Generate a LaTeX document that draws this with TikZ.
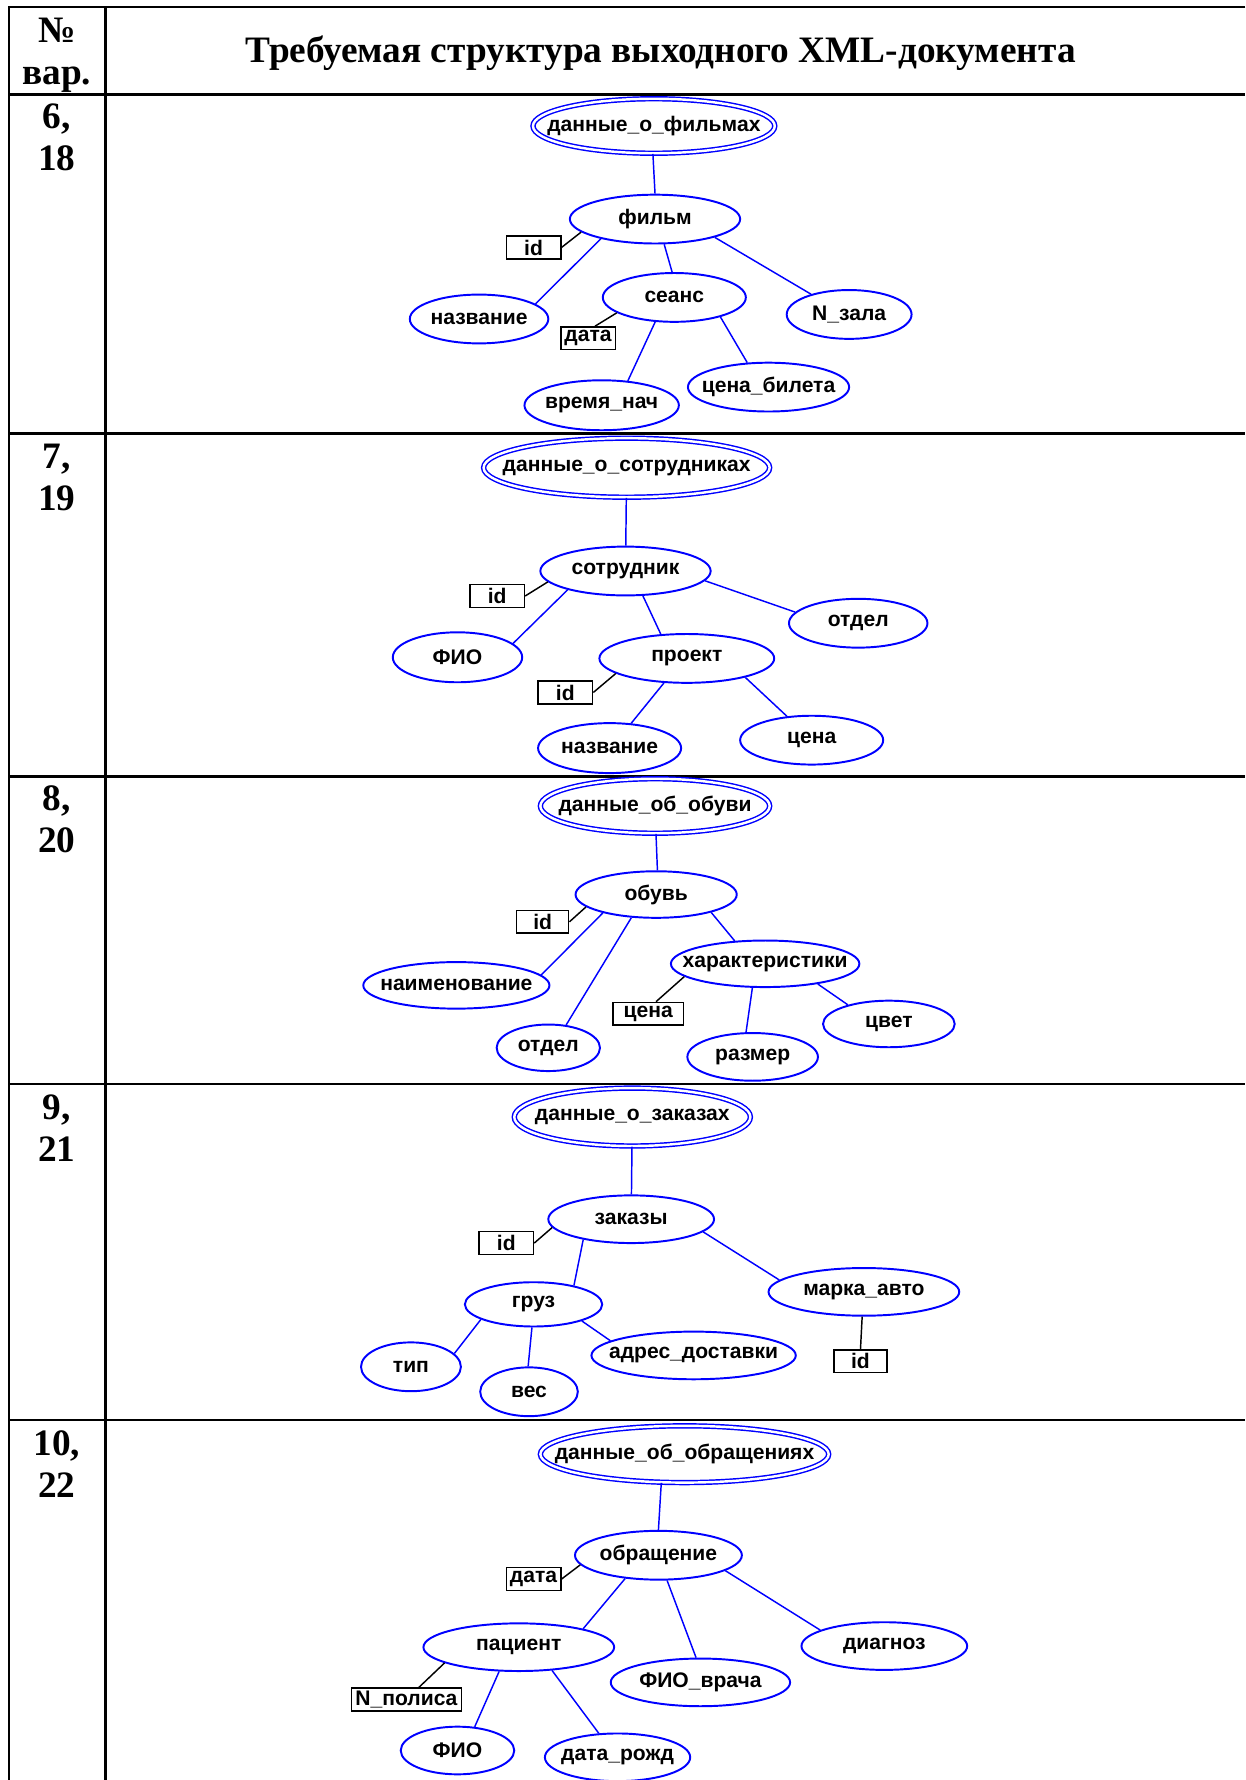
\documentclass[tikz,border=0pt]{standalone}
\usepackage{fontspec}
\setmainfont{Liberation Serif}
\newfontfamily\arialfont{Liberation Sans}
\usetikzlibrary{shapes.geometric}
\begin{document}
\begin{tikzpicture}[x=0.7pt,y=-0.7pt]

    \tikzset{
      elem/.style 2 args={
        ellipse,
        draw=blue,
        line width=1.2pt,
        inner sep=0pt,
        minimum width=#1*0.7pt,
        minimum height=#2*0.7pt,
        font=\arialfont\bfseries\fontsize{13}{15}\selectfont,
        execute at begin node={\hbox to 0pt\bgroup\hss},
        execute at end node={\hss\egroup},
      },
      rootelem/.style 2 args={
        elem={#1}{#2},
        line width=0.9pt,
        double=white,
        double distance=1.5pt,
      },
      attr/.style={
        draw,
        line width=0.9pt,
        inner sep=0pt,
        minimum width=#1*0.7pt,
        minimum height=20*0.7pt,
        font=\arialfont\bfseries\fontsize{13}{15}\selectfont,
      },
      link/.style={draw=blue, line width=0.9pt},
      alink/.style={draw=black, line width=0.9pt},
      tableline/.style={line width=1.6pt},
      headtext/.style={font=\bfseries\fontsize{23}{26}\selectfont, align=center, inner sep=0pt},
    }
    \useasboundingbox (0,0) rectangle (1097,1568);
    \draw[tableline] (1097,6) -- (8,6) -- (8,1568);
    \draw[tableline] (93,6) -- (93,1568);
    \foreach \y in {83,382,684,955,1251}
      \draw[tableline] (8,\y) -- (1097,\y);

    \node[headtext] (nohead) at (50,49) {№\\вар.};
    \node[headtext] (title) at (582,47) {Требуемая структура выходного XML-документа};
    \node[headtext, anchor=north] (var1) at (50,91) {6,\\18};
    \node[headtext, anchor=north] (var2) at (50,391) {7,\\19};
    \node[headtext, anchor=north] (var3) at (50,692) {8,\\20};
    \node[headtext, anchor=north] (var4) at (50,964) {9,\\21};
    \node[headtext, anchor=north] (var5) at (50,1260) {10,\\22};

	\node[rootelem={213}{48}] (films) at (576,111) {данные\_о\_фильмах};
	\node[elem={150}{43}] (film) at (577,193) {фильм};
	\node[attr=48] (filmid) at (470,218) {id};
	\node[elem={122}{43}] (filmname) at (422,281) {название};
	\node[elem={126}{43}] (show) at (594,262) {сеанс};
	\node[attr=48] (showdate) at (518,298) {дата};
	\node[elem={110}{43}] (hall) at (748,277) {N\_зала};
	\node[elem={142}{43}] (price) at (677,341) {цена\_билета};
	\node[elem={136}{44}] (start) at (530,357) {время\_нач};
	\draw[link] (films.268) -- (film.90);
	\draw[alink] (filmid.east) -- (film.190);
	\draw[link] (film.200) -- (filmname.15);
	\draw[link] (film.290) -- (show.95);
	\draw[link] (film.343) -- (hall.152);
	\draw[alink] (showdate.60) -- (show.195);
	\draw[link] (show.232) -- (start.43);
	\draw[link] (show.337) -- (price.131);

	\node[rootelem={252}{52}] (staff) at (552,412) {данные\_о\_сотрудниках};
	\node[elem={150}{43}] (emp) at (551,503) {сотрудник};
	\node[attr=48] (empid) at (438,525) {id};
	\node[elem={114}{44}] (empname) at (403,579) {ФИО};
	\node[elem={122}{43}] (dept) at (756,549) {отдел};
	\node[elem={154}{43}] (proj) at (605,580) {проект};
	\node[attr=48] (projid) at (498,610) {id};
	\node[elem={126}{44}] (projname) at (537,659) {название};
	\node[elem={126}{43}] (projcost) at (715,652) {цена};
	\draw[link] (staff) -- (emp);
	\draw[alink] (empid.east) -- (emp.188);
	\draw[link] (emp.198) -- (empname.14);
	\draw[link] (emp.305) -- (proj.137);
	\draw[link] (emp.353) -- (dept.170);
	\draw[alink] (projid.east) -- (proj.192);
	\draw[link] (proj.227) -- (projname.49);
	\draw[link] (proj.342) -- (projcost.136);

	\node[rootelem={202}{48}] (shoes) at (577,710) {данные\_об\_обуви};
	\node[elem={142}{41}] (shoe) at (578,788) {обувь};
	\node[attr=46] (shoeid) at (478,812) {id};
	\node[elem={164}{41}] (shoename) at (402,868) {наименование};
	\node[elem={91}{41}] (shoedept) at (483,923) {отдел};
	\node[elem={166}{41}] (props) at (674,849) {характеристики};
	\node[attr=62] (propprice) at (571,893) {цена};
	\node[elem={115}{42}] (size) at (663,931) {размер};
	\node[elem={116}{41}] (colour) at (783,902) {цвет};
	\draw[link] (shoes.272) -- (shoe.87);
	\draw[alink] (shoeid.east) -- (shoe.190);
	\draw[link] (shoe.199) -- (shoename.7);
	\draw[link] (shoe.223) -- (shoedept.52);
	\draw[link] (shoe.342) -- (props.143);
	\draw[alink] (propprice.57) -- (props.189);
	\draw[link] (props.242) -- (size.105);
	\draw[link] (props.339) -- (colour.155);

	\node[rootelem={208}{51}] (orders) at (557,984) {данные\_о\_заказах};
	\node[elem={146}{42}] (order) at (556,1074) {заказы};
	\node[attr=48] (orderid) at (446,1095) {id};
	\node[elem={121}{39}] (cargo) at (470,1149) {груз};
	\node[elem={168}{42}] (car) at (761,1138) {марка\_авто};
	\node[attr=47] (carid) at (758,1199) {id};
	\node[elem={88}{43}] (kind) at (362,1204) {тип};
	\node[elem={86}{43}] (weight) at (466,1226) {вес};
	\node[elem={180}{42}] (address) at (611,1194) {адрес\_доставки};
	\draw[link] (orders) -- (order);
	\draw[alink] (orderid.east) -- (order.186);
	\draw[link] (order.203) -- (cargo.25);
	\draw[link] (order.350) -- (car.172);
	\draw[alink] (car.266) -- (carid.north);
	\draw[link] (cargo.196) -- (kind.17);
	\draw[link] (cargo.266) -- (weight.92);
	\draw[link] (cargo.341) -- (address.170);

	\node[rootelem={254}{50}] (visits) at (603,1281) {данные\_об\_обращениях};
	\node[elem={147}{43}] (visit) at (580,1370) {обращение};
	\node[attr=48] (visitdate) at (470,1391) {дата};
	\node[elem={168}{42}] (patient) at (457,1451) {пациент};
	\node[elem={158}{42}] (doctor) at (617,1482) {ФИО\_врача};
	\node[elem={146}{42}] (diag) at (779,1450) {диагноз};
	\node[attr=97] (policy) at (358,1497) {N\_полиса};
	\node[elem={100}{42}] (patname) at (403,1542) {ФИО};
	\node[elem={128}{42}] (birth) at (544,1548) {дата\_рожд};
	\draw[link] (visits.231) -- (visit.90);
	\draw[alink] (visitdate.east) -- (visit.187);
	\draw[link] (visit.215) -- (patient.16);
	\draw[link] (visit.289) -- (doctor.100);
	\draw[link] (visit.347) -- (diag.166);
	\draw[alink] (policy.44) -- (patient.192);
	\draw[link] (patient.231) -- (patname.54);
	\draw[link] (patient.325) -- (birth.128);

\end{tikzpicture}
\end{document}
